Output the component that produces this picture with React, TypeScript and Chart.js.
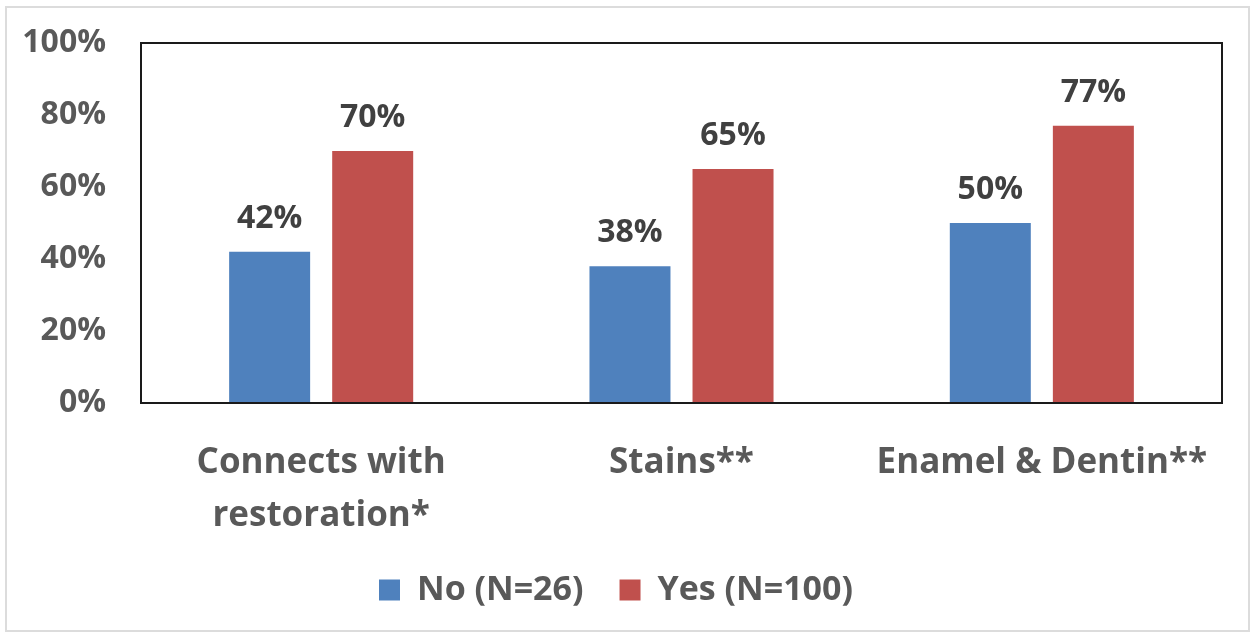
import React, { useEffect, useRef } from "react";
import { Chart, registerables } from "chart.js";

Chart.register(...registerables);

const categories: (string | string[])[] = [["Connects with", "restoration*"], "Stains**", "Enamel & Dentin**"];
const seriesNames = ["No (N=26)", "Yes (N=100)"];
const noValues = [42, 38, 50];
const yesValues = [70, 65, 77];
const seriesColors = ["#4F81BD", "#C0504D"];
const yTicks = [0, 20, 40, 60, 80, 100];

const FONT = "'Open Sans', 'DejaVu Sans', sans-serif";

const frameAndLabels = {
  id: "frameAndLabels",
  afterDatasetsDraw(chart: any) {
    const { ctx, chartArea } = chart;
    ctx.save();
    ctx.strokeStyle = "#1a1a1a";
    ctx.lineWidth = 2;
    ctx.strokeRect(chartArea.left, chartArea.top, chartArea.right - chartArea.left, chartArea.bottom - chartArea.top);
    ctx.fillStyle = "#404040";
    ctx.font = `bold 32px ${FONT}`;
    ctx.textAlign = "center";
    ctx.textBaseline = "alphabetic";
    chart.data.datasets.forEach((ds: any, di: number) => {
      const meta = chart.getDatasetMeta(di);
      meta.data.forEach((bar: any, i: number) => {
        ctx.fillText(ds.data[i] + "%", bar.x, bar.y - 24);
      });
    });
    ctx.restore();
  },
};

export default function App() {
  const ref = useRef<HTMLCanvasElement | null>(null);
  useEffect(() => {
    if (!ref.current) return;
    const chart = new Chart(ref.current, {
      type: "bar",
      data: {
        labels: categories,
        datasets: [
          { label: seriesNames[0], data: noValues, backgroundColor: seriesColors[0], categoryPercentage: 0.572, barPercentage: 0.786 },
          { label: seriesNames[1], data: yesValues, backgroundColor: seriesColors[1], categoryPercentage: 0.572, barPercentage: 0.786 },
        ],
      },
      options: {
        animation: false,
        responsive: false,
        layout: { padding: { top: 43, right: 34, left: 10, bottom: 18 } },
        plugins: {
          tooltip: { enabled: false },
          legend: {
            position: "bottom",
            labels: {
              boxWidth: 21,
              boxHeight: 21,
              padding: 36,
              color: "#595959",
              font: { family: FONT, size: 34, weight: "bold" },
            },
          },
        },
        scales: {
          x: {
            grid: { display: false, drawTicks: false },
            border: { display: false },
            ticks: {
              color: "#595959",
              padding: 34,
              font: { family: FONT, size: 35, weight: "bold", lineHeight: 1.5 },
            },
            afterFit: (s: any) => { s.height = 134; },
          },
          y: {
            min: 0,
            max: 100,
            afterBuildTicks: (s: any) => { s.ticks = yTicks.map((v) => ({ value: v })); },
            grid: { display: false, drawTicks: false },
            border: { display: false },
            ticks: {
              color: "#595959",
              padding: 35,
              callback: (v: any) => v + "%",
              font: { family: FONT, size: 32, weight: "bold", lineHeight: 0.1 },
            },
            afterFit: (s: any) => { s.width = 131; },
          },
        },
      },
      plugins: [frameAndLabels],
    });
    return () => chart.destroy();
  }, []);
  return (
    <div style={{ position: "fixed", left: 0, top: 0, width: 1256, height: 635, background: "#fff" }}>
      <div style={{ position: "absolute", left: 5, top: 6, width: 1241, height: 622, border: "2px solid #dcdcdc" }} />
      <canvas ref={ref} width={1256} height={635} style={{ position: "absolute", left: 0, top: 0 }} />
    </div>
  );
}
